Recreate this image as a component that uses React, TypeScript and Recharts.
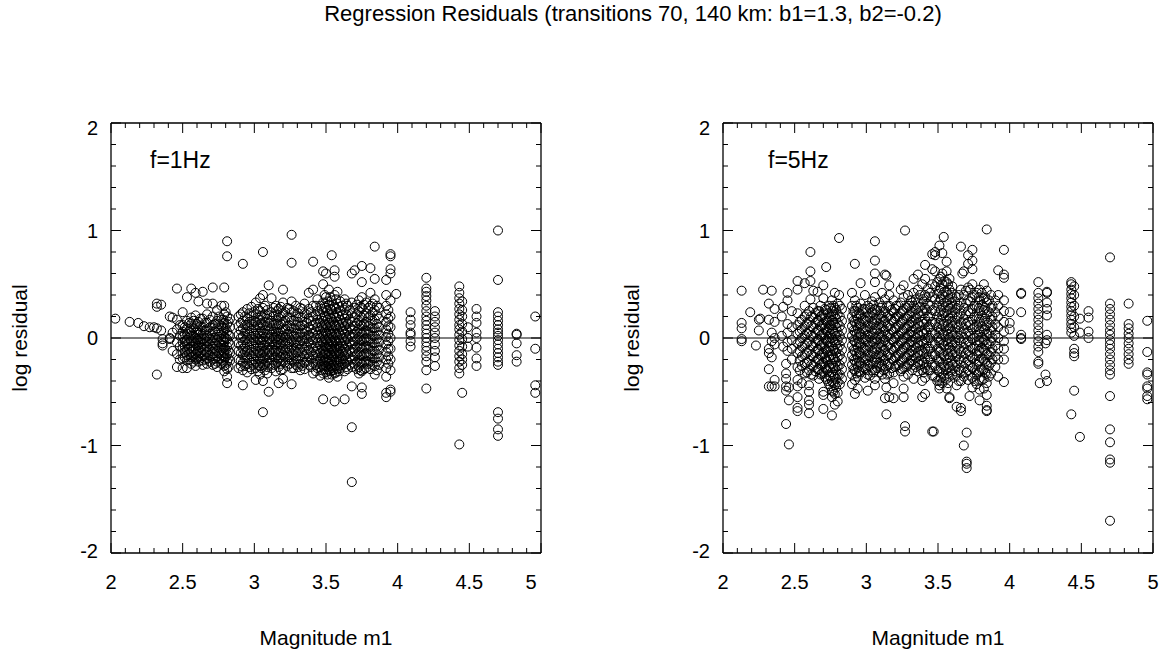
import React from 'react';
import { ScatterChart, Scatter, XAxis, YAxis, ReferenceLine } from 'recharts';

const TITLE = 'Regression Residuals (transitions 70, 140 km: b1=1.3, b2=-0.2)';
const X_NAME = 'Magnitude m1';
const Y_NAME = 'log residual';
const PANEL_NAMES = ['f=1Hz', 'f=5Hz'];

const X_TICKS = [2, 2.1, 2.2, 2.3, 2.4, 2.5, 2.6, 2.7, 2.8, 2.9, 3, 3.1, 3.2, 3.3, 3.4, 3.5, 3.6, 3.7, 3.8, 3.9, 4, 4.1, 4.2, 4.3, 4.4, 4.5, 4.6, 4.7, 4.8, 4.9, 5];
const X_LABELS = [2, 2.5, 3, 3.5, 4, 4.5, 5];
const Y_TICKS = [-2, -1.8, -1.6, -1.4, -1.2, -1, -0.8, -0.6, -0.4, -0.2, 0, 0.2, 0.4, 0.6, 0.8, 1, 1.2, 1.4, 1.6, 1.8, 2];
const Y_LABELS = [-2, -1, 0, 1, 2];

type Col = [number, number[]];

// ---- f = 1 Hz : [magnitude, residuals at that magnitude]
const L1_LOW: Col[] = [
  [2.03, [0.18]], [2.13, [0.15]], [2.19, [0.14]], [2.23, [0.11]], [2.27, [0.1]], [2.3, [0.1]],
  [2.32, [0.32, 0.29, 0.09, -0.34]], [2.35, [0.07, 0.31]], [2.36, [-0.01, -0.05, -0.07]],
  [2.41, [0.2, -0.01, 0.0]], [2.43, [0.19, 0.05, -0.12]], [2.46, [0.46, 0.17, 0.08, -0.04, -0.15, -0.27]],
  [2.48, [0.12, 0.02, -0.08, -0.2]],
];
const L1_MID1: Col[] = [
  [2.5, [0.24, 0.12, 0.06, 0.01, -0.04, -0.09, -0.14, -0.19, -0.28]],
  [2.515, [0.1, 0.03, -0.03, -0.08, -0.13, -0.18]],
  [2.53, [0.38, 0.16, 0.09, 0.04, -0.02, -0.06, -0.11, -0.16, -0.21, -0.28]],
  [2.545, [0.14, 0.06, 0.0, -0.05, -0.1, -0.15, -0.2]],
  [2.56, [0.46, 0.19, 0.13, 0.07, 0.02, -0.03, -0.08, -0.13, -0.18, -0.24]],
  [2.575, [0.16, 0.09, 0.02, -0.03, -0.08, -0.12, -0.17, -0.22]],
  [2.59, [0.42, 0.21, 0.11, 0.05, 0.0, -0.05, -0.1, -0.15, -0.2, -0.26]],
  [2.6, [0.13, 0.06, -0.01, -0.07, -0.13, -0.19]],
  [2.61, [0.34, 0.15, 0.08, 0.03, -0.02, -0.07, -0.12, -0.17, -0.22]],
  [2.625, [0.18, 0.11, 0.05, -0.01, -0.04, -0.09, -0.14, -0.19]],
  [2.64, [0.43, 0.18, 0.1, 0.04, -0.01, -0.06, -0.11, -0.16, -0.21, -0.25]],
  [2.655, [0.14, 0.07, 0.0, -0.05, -0.1, -0.15, -0.2]],
  [2.67, [0.32, 0.22, 0.14, 0.08, 0.02, -0.03, -0.08, -0.13, -0.19, -0.24]],
  [2.69, [0.17, 0.1, 0.04, -0.01, -0.06, -0.11, -0.16, -0.22]],
  [2.71, [0.47, 0.32, 0.2, 0.12, 0.06, 0.0, -0.05, -0.1, -0.15, -0.2, -0.25]],
  [2.725, [0.13, 0.06, 0.0, -0.05, -0.1, -0.14, -0.19, -0.24]],
  [2.74, [0.26, 0.16, 0.09, 0.03, -0.02, -0.07, -0.12, -0.17, -0.22, -0.27]],
  [2.755, [0.2, 0.13, 0.07, 0.01, -0.04, -0.09, -0.14, -0.19]],
  [2.77, [0.3, 0.17, 0.11, 0.05, -0.01, -0.06, -0.11, -0.16, -0.21, -0.24]],
  [2.785, [0.17, 0.1, 0.04, -0.02, -0.07, -0.12, -0.17, -0.22]],
  [2.79, [0.47, 0.3, 0.22, 0.14, 0.07, 0.01, -0.04, -0.09, -0.14, -0.19, -0.26, -0.31]],
  [2.8, [0.24, 0.09, 0.0, -0.11, -0.18, -0.25]],
  [2.81, [0.9, 0.76, 0.2, 0.13, 0.06, -0.01, -0.08, -0.15, -0.22, -0.29, -0.36, -0.42]],
  [2.82, [0.15, 0.03, -0.04, -0.12, -0.19, -0.27]],
  [2.83, [0.18, 0.1, 0.02, -0.06, -0.14, -0.21]],
];
const L1_MID2: Col[] = [
  [2.89, [0.2, 0.11, 0.03, -0.05, -0.12, -0.2, -0.28]],
  [2.905, [0.22, 0.14, 0.07, 0.0, -0.07, -0.14, -0.21, -0.26]],
  [2.92, [0.69, 0.24, 0.16, 0.09, 0.02, -0.04, -0.1, -0.16, -0.23, -0.3, -0.44]],
  [2.935, [0.2, 0.12, 0.05, -0.02, -0.08, -0.13, -0.19, -0.26]],
  [2.95, [0.27, 0.18, 0.12, 0.06, 0.0, -0.06, -0.12, -0.18, -0.24, -0.32]],
  [2.965, [0.23, 0.15, 0.09, 0.03, -0.03, -0.09, -0.15, -0.21, -0.27]],
  [2.98, [0.29, 0.2, 0.13, 0.07, 0.01, -0.05, -0.11, -0.17, -0.23, -0.29]],
  [2.995, [0.24, 0.16, 0.1, 0.04, -0.02, -0.08, -0.14, -0.2, -0.25]],
  [3.01, [0.33, 0.22, 0.15, 0.08, 0.02, -0.04, -0.1, -0.16, -0.22, -0.28, -0.39]],
  [3.025, [0.27, 0.19, 0.12, 0.05, -0.01, -0.07, -0.13, -0.19, -0.25, -0.31]],
  [3.04, [0.37, 0.25, 0.17, 0.1, 0.04, -0.02, -0.08, -0.14, -0.2, -0.26, -0.34]],
  [3.05, [0.21, 0.14, 0.07, 0.01, -0.04, -0.1, -0.16, -0.22, -0.28]],
  [3.06, [0.8, 0.4, 0.28, 0.19, 0.12, 0.05, -0.01, -0.07, -0.13, -0.19, -0.25, -0.4, -0.69]],
  [3.075, [0.3, 0.22, 0.15, 0.08, 0.01, -0.06, -0.12, -0.18, -0.24, -0.3]],
  [3.09, [0.26, 0.18, 0.11, 0.04, -0.03, -0.09, -0.15, -0.21, -0.27, -0.33]],
  [3.1, [0.49, -0.5]],
  [3.105, [0.21, 0.14, 0.07, 0.0, -0.06, -0.12, -0.18, -0.24]],
  [3.12, [0.37, 0.24, 0.16, 0.09, 0.03, -0.03, -0.09, -0.15, -0.21, -0.28]],
  [3.135, [0.28, 0.2, 0.12, 0.06, 0.0, -0.06, -0.12, -0.18, -0.25]],
  [3.15, [0.3, 0.21, 0.13, 0.06, 0.0, -0.06, -0.12, -0.18, -0.24, -0.31]],
  [3.16, [0.25, 0.16, 0.09, 0.02, -0.04, -0.1, -0.16, -0.22]],
  [3.17, [0.27, 0.19, 0.12, 0.05, -0.01, -0.07, -0.13, -0.2, -0.27, -0.42]],
  [3.185, [0.29, 0.2, 0.13, 0.06, 0.0, -0.06, -0.12, -0.18, -0.24, -0.3]],
  [3.2, [0.45, 0.33, 0.23, 0.15, 0.08, 0.02, -0.04, -0.1, -0.16, -0.22, -0.29, -0.38]],
  [3.215, [0.24, 0.16, 0.08, 0.01, -0.05, -0.11, -0.17, -0.23]],
  [3.23, [0.28, 0.19, 0.11, 0.04, -0.02, -0.08, -0.14, -0.2, -0.26]],
  [3.245, [0.27, 0.19, 0.12, 0.06, 0.0, -0.06, -0.12, -0.18, -0.24]],
  [3.26, [0.96, 0.7, 0.34, 0.24, 0.16, 0.09, 0.03, -0.03, -0.09, -0.15, -0.21, -0.28, -0.43]],
  [3.275, [0.25, 0.16, 0.09, 0.02, -0.04, -0.1, -0.16, -0.22, -0.28]],
  [3.29, [0.3, 0.2, 0.12, 0.05, -0.01, -0.07, -0.13, -0.19, -0.25]],
  [3.305, [0.23, 0.15, 0.08, 0.01, -0.06, -0.13, -0.2, -0.27]],
  [3.32, [0.28, 0.19, 0.11, 0.04, -0.03, -0.1, -0.17, -0.24, -0.3]],
  [3.335, [0.27, 0.19, 0.12, 0.05, -0.02, -0.08, -0.14, -0.2, -0.26]],
  [3.35, [0.32, 0.23, 0.15, 0.08, 0.01, -0.05, -0.11, -0.17, -0.23, -0.29]],
  [3.365, [0.22, 0.14, 0.06, -0.01, -0.08, -0.15, -0.22]],
  [3.38, [0.42, 0.27, 0.18, 0.1, 0.03, -0.04, -0.11, -0.18, -0.25]],
  [3.395, [0.24, 0.16, 0.08, 0.01, -0.06, -0.13, -0.2, -0.27]],
  [3.41, [0.71, 0.45, 0.3, 0.2, 0.12, 0.05, -0.02, -0.09, -0.16, -0.23, -0.33]],
];
const L1_MID3: Col[] = [
  [3.43, [0.3, 0.21, 0.14, 0.07, 0.0, -0.07, -0.13, -0.19, -0.25, -0.31]],
  [3.44, [0.36, 0.25, 0.17, 0.1, 0.03, -0.04, -0.1, -0.16, -0.22, -0.28]],
  [3.46, [0.3, 0.21, 0.14, 0.07, 0.0, -0.07, -0.14, -0.21, -0.27, -0.35]],
  [3.47, [0.27, 0.18, 0.11, 0.04, -0.03, -0.1, -0.17, -0.24, -0.3]],
  [3.48, [0.62, 0.5, 0.33, 0.24, 0.16, 0.09, 0.02, -0.05, -0.12, -0.19, -0.26, -0.33, -0.57]],
  [3.49, [0.4, 0.29, 0.2, 0.13, 0.06, -0.01, -0.08, -0.15, -0.22, -0.29]],
  [3.5, [0.6, 0.38, 0.28, 0.19, 0.12, 0.05, -0.02, -0.08, -0.14, -0.2, -0.26, -0.32]],
  [3.51, [0.34, 0.25, 0.17, 0.1, 0.03, -0.03, -0.09, -0.15, -0.21, -0.27, -0.34]],
  [3.52, [0.45, 0.31, 0.22, 0.14, 0.07, 0.0, -0.06, -0.12, -0.18, -0.24, -0.3, -0.37]],
  [3.53, [0.38, 0.27, 0.19, 0.12, 0.05, -0.02, -0.08, -0.14, -0.2, -0.26, -0.31]],
  [3.54, [0.77, 0.35, 0.26, 0.18, 0.11, 0.04, -0.03, -0.1, -0.16, -0.22, -0.28, -0.34]],
  [3.55, [0.31, 0.22, 0.15, 0.08, 0.01, -0.05, -0.12, -0.18, -0.25, -0.3]],
  [3.56, [0.63, 0.57, 0.4, 0.29, 0.2, 0.12, 0.05, -0.02, -0.09, -0.15, -0.21, -0.27, -0.33, -0.59]],
  [3.57, [0.36, 0.27, 0.19, 0.11, 0.04, -0.03, -0.08, -0.14, -0.2, -0.26, -0.32]],
  [3.58, [0.43, 0.32, 0.23, 0.15, 0.08, 0.01, -0.05, -0.11, -0.17, -0.23, -0.29, -0.36]],
  [3.59, [0.29, 0.2, 0.12, 0.05, -0.02, -0.08, -0.14, -0.2, -0.26, -0.31]],
  [3.6, [0.34, 0.25, 0.17, 0.1, 0.03, -0.04, -0.1, -0.16, -0.22, -0.28]],
  [3.615, [0.3, 0.21, 0.14, 0.07, 0.0, -0.07, -0.13, -0.19, -0.25]],
  [3.63, [0.36, 0.26, 0.18, 0.11, 0.04, -0.03, -0.1, -0.17, -0.24, -0.31, -0.57]],
  [3.64, [0.32, 0.22, 0.15, 0.08, 0.01, -0.06, -0.13, -0.2, -0.27]],
  [3.65, [0.3, 0.21, 0.13, 0.06, -0.01, -0.08, -0.15, -0.22, -0.29]],
  [3.665, [0.26, 0.17, 0.1, 0.03, -0.04, -0.11, -0.18, -0.25]],
  [3.68, [0.6, 0.33, 0.23, 0.15, 0.08, 0.01, -0.06, -0.13, -0.2, -0.27, -0.45, -0.83, -1.34]],
  [3.7, [0.63, 0.28, 0.19, 0.11, 0.04, -0.03, -0.1, -0.17, -0.24]],
  [3.715, [0.31, 0.22, 0.14, 0.06, -0.01, -0.08, -0.15, -0.22, -0.29]],
  [3.73, [0.35, 0.25, 0.16, 0.08, 0.01, -0.06, -0.13, -0.2, -0.27, -0.33]],
  [3.74, [0.29, 0.2, 0.12, 0.05, -0.02, -0.09, -0.16, -0.23, -0.3]],
  [3.75, [0.67, 0.52, 0.38, 0.28, 0.19, 0.11, 0.04, -0.03, -0.1, -0.17, -0.24, -0.31, -0.46, -0.52]],
  [3.765, [0.31, 0.21, 0.13, 0.06, -0.01, -0.08, -0.15, -0.22, -0.29]],
  [3.78, [0.33, 0.23, 0.15, 0.07, 0.0, -0.07, -0.14, -0.21, -0.28]],
  [3.795, [0.28, 0.19, 0.11, 0.04, -0.03, -0.1, -0.17, -0.24]],
  [3.81, [0.65, 0.42, 0.3, 0.21, 0.13, 0.06, -0.01, -0.08, -0.15, -0.22, -0.29]],
  [3.825, [0.32, 0.24, 0.16, 0.09, 0.02, -0.05, -0.12, -0.19, -0.25]],
  [3.84, [0.85, 0.55, 0.36, 0.26, 0.17, 0.09, 0.02, -0.05, -0.12, -0.19, -0.26, -0.34]],
  [3.855, [0.3, 0.21, 0.13, 0.06, -0.01, -0.08, -0.15, -0.22, -0.3]],
  [3.87, [0.28, 0.18, 0.1, 0.03, -0.04, -0.11, -0.18, -0.25]],
  [3.92, [0.54, 0.4, 0.3, 0.22, 0.15, 0.08, 0.01, -0.06, -0.13, -0.2, -0.28, -0.36, -0.51, -0.55]],
  [3.935, [0.26, 0.18, 0.11, 0.04, -0.03, -0.1, -0.17, -0.24]],
  [3.95, [0.78, 0.76, 0.64, 0.6, 0.35, 0.2, 0.1, 0.0, -0.1, -0.2, -0.3, -0.48, -0.5]],
  [3.99, [0.41]],
];
const L1_HIGH: Col[] = [
  [4.09, [0.24, 0.17, 0.12, 0.05, 0.03, -0.03, -0.08]],
  [4.2, [0.56, 0.46, 0.43, 0.39, 0.35, 0.3, 0.25, 0.2, 0.16, 0.12, 0.08, 0.04, 0.0, -0.04, -0.08, -0.12, -0.17, -0.22, -0.3, -0.47]],
  [4.26, [0.25, 0.2, 0.15, 0.1, 0.05, 0.0, -0.06, -0.12, -0.18, -0.26]],
  [4.43, [0.48, 0.42, 0.37, 0.32, 0.27, 0.22, 0.17, 0.12, 0.08, 0.03, -0.02, -0.07, -0.12, -0.17, -0.22, -0.28, -0.33, -0.99]],
  [4.45, [0.34, 0.26, 0.2, 0.13, 0.06, -0.01, -0.08, -0.15, -0.2, -0.25, -0.51]],
  [4.49, [0.1, 0.0, -0.08]],
  [4.55, [0.27, 0.2, 0.14, 0.05, 0.0, -0.09, -0.19, -0.26]],
  [4.7, [1.0, 0.54, 0.24, 0.2, 0.16, 0.12, 0.08, 0.05, 0.02, -0.02, -0.06, -0.1, -0.14, -0.18, -0.22, -0.25, -0.69, -0.75, -0.85, -0.91]],
  [4.83, [0.04, 0.03, -0.05, -0.16, -0.22]],
  [4.96, [0.2, -0.1, -0.44, -0.51]],
];

// ---- f = 5 Hz
const R5_LOW: Col[] = [
  [2.13, [0.44, 0.14, 0.09, -0.01, -0.03]], [2.19, [0.24]], [2.23, [-0.07]], [2.25, [0.17, 0.07]],
  [2.26, [0.18]], [2.28, [0.45]], [2.32, [0.32, 0.17, -0.1, -0.14, -0.29, -0.45]],
  [2.34, [0.44, 0.05, -0.03, -0.18, -0.45]], [2.36, [0.27, 0.15, 0.0, -0.06, -0.39, -0.45]],
  [2.41, [0.2, 0.02]], [2.42, [0.29, -0.08]], [2.44, [-0.24, -0.33, -0.38, -0.45, -0.49, -0.8]],
  [2.45, [0.42, 0.35, 0.13, 0.05, -0.04, -0.12]], [2.46, [-0.46, -0.58, -0.99]],
  [2.48, [0.25, 0.1, -0.02, -0.1, -0.2]],
];
const R5_MID1: Col[] = [
  [2.52, [0.53, 0.45, 0.23, 0.12, 0.04, -0.05, -0.14, -0.27, -0.39, -0.45, -0.55, -0.65, -0.68]],
  [2.535, [0.15, 0.06, -0.03, -0.12, -0.21, -0.3]],
  [2.55, [0.17, 0.08, 0.0, -0.08, -0.17, -0.26, -0.42]],
  [2.57, [0.51, 0.3, 0.2, 0.11, 0.02, -0.07, -0.16, -0.24, -0.33]],
  [2.585, [0.22, 0.13, 0.04, -0.05, -0.14, -0.23, -0.32]],
  [2.6, [0.25, 0.15, 0.06, -0.03, -0.12, -0.21, -0.3, -0.44, -0.5, -0.58, -0.62, -0.7]],
  [2.61, [0.8, 0.62, 0.53, 0.36]],
  [2.615, [0.2, 0.11, 0.02, -0.07, -0.16, -0.25, -0.34]],
  [2.63, [0.44, 0.28, 0.19, 0.1, 0.01, -0.08, -0.17, -0.26, -0.35]],
  [2.645, [0.23, 0.14, 0.05, -0.04, -0.13, -0.22, -0.31]],
  [2.66, [0.43, 0.25, 0.16, 0.07, -0.02, -0.11, -0.2, -0.29]],
  [2.67, [0.25, 0.16, 0.07, -0.02, -0.11, -0.2, -0.29, -0.38]],
  [2.68, [0.3, 0.2, 0.11, 0.02, -0.07, -0.16, -0.25, -0.34]],
  [2.69, [0.21, 0.12, 0.03, -0.06, -0.15, -0.24, -0.33]],
  [2.7, [0.49, 0.37, 0.22, 0.13, 0.04, -0.05, -0.14, -0.23, -0.32, -0.5, -0.53, -0.66]],
  [2.71, [0.27, 0.18, 0.09, 0.0, -0.09, -0.18, -0.27, -0.36]],
  [2.72, [0.66, 0.26, 0.16, 0.07, -0.02, -0.11, -0.2, -0.29, -0.38]],
  [2.73, [0.23, 0.14, 0.05, -0.04, -0.13, -0.22, -0.31, -0.4]],
  [2.74, [0.3, 0.19, 0.1, 0.01, -0.08, -0.17, -0.26, -0.35, -0.43]],
  [2.75, [0.28, 0.2, 0.12, 0.04, -0.04, -0.12, -0.2, -0.28, -0.36, -0.45]],
  [2.76, [0.35, 0.25, 0.16, 0.08, 0.0, -0.08, -0.16, -0.24, -0.32, -0.4, -0.49, -0.55, -0.72]],
  [2.77, [0.3, 0.22, 0.14, 0.06, -0.02, -0.1, -0.18, -0.26, -0.34, -0.42, -0.5]],
  [2.78, [0.42, 0.28, 0.2, 0.12, 0.04, -0.04, -0.12, -0.2, -0.28, -0.36, -0.44, -0.52, -0.62]],
  [2.79, [0.26, 0.18, 0.1, 0.02, -0.06, -0.14, -0.22, -0.3, -0.38, -0.46]],
  [2.8, [0.32, 0.22, 0.14, 0.06, -0.02, -0.1, -0.18, -0.26, -0.34, -0.41, -0.51, -0.59]],
  [2.81, [0.93, 0.4]],
  [2.815, [0.3, 0.2, 0.11, 0.02, -0.07, -0.16, -0.25, -0.34, -0.43]],
  [2.83, [0.27, 0.16, 0.07, -0.02, -0.11, -0.2, -0.29, -0.38]],
];
const R5_MID2: Col[] = [
  [2.9, [0.42, 0.3, 0.2, 0.11, 0.02, -0.07, -0.16, -0.25, -0.34, -0.43]],
  [2.91, [0.25, 0.16, 0.07, -0.02, -0.11, -0.2, -0.29]],
  [2.92, [0.69, 0.35, 0.25, 0.15, 0.06, -0.03, -0.12, -0.21, -0.3, -0.39, -0.52]],
  [2.93, [0.3, 0.21, 0.12, 0.03, -0.06, -0.15, -0.24, -0.33]],
  [2.94, [0.28, 0.18, 0.09, 0.0, -0.09, -0.18, -0.27, -0.36, -0.47]],
  [2.95, [0.23, 0.14, 0.05, -0.04, -0.13, -0.22, -0.31]],
  [2.96, [0.51, 0.32, 0.22, 0.13, 0.04, -0.05, -0.14, -0.23, -0.32]],
  [2.975, [0.27, 0.18, 0.09, 0.0, -0.09, -0.18, -0.27]],
  [2.99, [0.4, 0.27, 0.17, 0.08, -0.01, -0.1, -0.19, -0.28, -0.37]],
  [3.0, [0.24, 0.15, 0.06, -0.03, -0.12, -0.21, -0.3]],
  [3.01, [0.3, 0.2, 0.11, 0.02, -0.07, -0.16, -0.25, -0.34, -0.49]],
  [3.025, [0.28, 0.19, 0.1, 0.01, -0.08, -0.17, -0.26, -0.35]],
  [3.04, [0.34, 0.24, 0.15, 0.06, -0.03, -0.12, -0.21, -0.3]],
  [3.05, [0.31, 0.22, 0.13, 0.04, -0.05, -0.14, -0.23, -0.32]],
  [3.06, [0.9, 0.72, 0.6, 0.52, 0.38, 0.27, 0.18, 0.09, 0.0, -0.09, -0.18, -0.3, -0.38, -0.44]],
  [3.07, [-0.23]],
  [3.075, [0.26, 0.17, 0.08, -0.01, -0.1, -0.19, -0.28]],
  [3.09, [0.33, 0.22, 0.13, 0.04, -0.05, -0.14, -0.23, -0.32]],
  [3.1, [0.28, 0.18, 0.09, 0.0, -0.09, -0.18, -0.27]],
  [3.11, [0.42, 0.3, 0.2, 0.11, 0.02, -0.07, -0.16, -0.25, -0.34]],
  [3.12, [0.24, 0.15, 0.06, -0.03, -0.12, -0.21, -0.3]],
  [3.13, [0.59, 0.36, 0.25, 0.16, 0.07, -0.02, -0.11, -0.2, -0.29, -0.38, -0.56]],
  [3.14, [0.58, -0.46, -0.71]],
  [3.145, [0.3, 0.2, 0.11, 0.02, -0.07, -0.16, -0.25, -0.34]],
  [3.16, [0.49, 0.4, 0.3, 0.21, 0.12, 0.03, -0.06, -0.15, -0.24, -0.33, -0.55]],
  [3.175, [0.26, 0.17, 0.08, -0.01, -0.1, -0.19, -0.28]],
  [3.19, [0.35, 0.24, 0.15, 0.06, -0.03, -0.12, -0.21, -0.32, -0.42, -0.56]],
  [3.2, [0.27, 0.18, 0.09, 0.0, -0.09, -0.18, -0.27]],
  [3.21, [0.3, 0.2, 0.1, 0.01, -0.08, -0.17, -0.26]],
  [3.225, [0.3, 0.2, 0.11, 0.02, -0.07, -0.16, -0.25]],
  [3.24, [0.45, 0.33, 0.23, 0.14, 0.05, -0.04, -0.13, -0.22, -0.31]],
  [3.25, [0.25, 0.16, 0.07, -0.02, -0.11, -0.2, -0.29]],
  [3.26, [0.49, 0.38, 0.27, 0.18, 0.09, 0.0, -0.09, -0.18, -0.27, -0.36, -0.47, -0.55]],
  [3.27, [1.0, -0.82, -0.87]],
  [3.28, [0.28, 0.18, 0.09, 0.0, -0.09, -0.18, -0.27]],
  [3.29, [0.4, 0.3, 0.2, 0.11, 0.02, -0.07, -0.16, -0.25, -0.34]],
  [3.3, [0.3, 0.21, 0.12, 0.03, -0.06, -0.15, -0.24]],
  [3.31, [0.35, 0.25, 0.15, 0.06, -0.03, -0.12, -0.21]],
  [3.32, [0.33, 0.24, 0.15, 0.06, -0.03, -0.12, -0.21, -0.3]],
  [3.33, [0.55, 0.42, 0.3, 0.2, 0.11, 0.02, -0.07, -0.16, -0.25, -0.38]],
  [3.345, [0.36, 0.27, 0.18, 0.09, 0.0, -0.09, -0.18, -0.27]],
  [3.36, [0.59, 0.45, 0.33, 0.23, 0.14, 0.05, -0.04, -0.13, -0.22, -0.31]],
  [3.375, [0.4, 0.29, 0.2, 0.11, 0.02, -0.07, -0.16, -0.25]],
  [3.39, [0.5, 0.36, 0.25, 0.15, 0.06, -0.03, -0.12, -0.21, -0.3, -0.4, -0.55]],
  [3.4, [0.34, 0.23, 0.13, 0.04, -0.05, -0.14, -0.23, -0.32]],
  [3.41, [0.68, 0.55, 0.4, 0.28, 0.18, 0.08, -0.01, -0.1, -0.19, -0.28, -0.37, -0.52]],
  [3.42, [0.38, 0.26, 0.15, 0.05, -0.05, -0.15, -0.25]],
  [3.43, [0.46, 0.32, 0.2, 0.1, 0.0, -0.1, -0.2, -0.3]],
  [3.445, [0.42, 0.3, 0.2, 0.1, 0.0, -0.1, -0.2, -0.3]],
  [3.46, [0.78, 0.64, 0.5, 0.38, 0.26, 0.15, 0.05, -0.05, -0.15, -0.25, -0.35, -0.87]],
  [3.47, [-0.87]],
];
const R5_MID3: Col[] = [
  [3.48, [0.8, 0.77, 0.62, 0.48, 0.36, 0.25, 0.14, 0.04, -0.06, -0.16, -0.26, -0.36]],
  [3.495, [0.52, 0.41, 0.3, 0.2, 0.1, 0.0, -0.1, -0.2, -0.3, -0.4]],
  [3.51, [0.86, 0.55, 0.44, 0.34, 0.24, 0.14, 0.05, -0.04, -0.13, -0.22, -0.31, -0.4, -0.44, -0.47]],
  [3.52, [0.57, 0.46, 0.36, 0.26, 0.17, 0.08, -0.01, -0.1, -0.19, -0.28, -0.37]],
  [3.53, [0.79, 0.6, 0.5, 0.4, 0.3, 0.21, 0.12, 0.03, -0.06, -0.15, -0.24, -0.33, -0.42]],
  [3.54, [0.94]],
  [3.545, [0.53, 0.43, 0.33, 0.23, 0.13, 0.03, -0.07, -0.17, -0.27, -0.37]],
  [3.56, [0.71, 0.62, 0.52, 0.43, 0.34, 0.25, 0.16, 0.07, -0.02, -0.11, -0.2, -0.29, -0.38, -0.47]],
  [3.57, [0.5, 0.4, 0.3, 0.21, 0.12, 0.03, -0.06, -0.15, -0.24, -0.33, -0.42]],
  [3.58, [0.55, 0.45, 0.36, 0.27, 0.18, 0.09, 0.0, -0.09, -0.18, -0.27, -0.36, -0.55, -0.56]],
  [3.595, [0.42, 0.33, 0.24, 0.15, 0.06, -0.03, -0.12, -0.21, -0.3]],
  [3.6, [0.48, 0.38, 0.29, 0.2, 0.11, 0.02, -0.07, -0.16, -0.25, -0.34]],
  [3.62, [0.34, 0.24, 0.14, 0.05, -0.04, -0.13, -0.22, -0.31]],
  [3.63, [0.38, 0.28, 0.19, 0.1, 0.01, -0.08, -0.17, -0.26, -0.35, -0.44, -0.64]],
  [3.645, [0.4, 0.3, 0.2, 0.1, 0.0, -0.1, -0.2, -0.3, -0.4]],
  [3.66, [0.85, 0.45, 0.33, 0.23, 0.14, 0.05, -0.04, -0.13, -0.22, -0.31, -0.4, -0.65, -0.68]],
  [3.67, [0.6]],
  [3.68, [0.62, 0.4, 0.28, 0.18, 0.09, 0.0, -0.09, -0.18, -0.27, -0.36, -1.0]],
  [3.695, [0.44, 0.32, 0.22, 0.13, 0.04, -0.05, -0.14, -0.23, -0.32]],
  [3.7, [-0.88, -1.15, -1.17, -1.21]],
  [3.71, [0.77, 0.69, 0.47, 0.35, 0.25, 0.15, 0.06, -0.03, -0.12, -0.21, -0.3, -0.39]],
  [3.72, [-0.54]],
  [3.725, [0.45, 0.34, 0.23, 0.12, 0.02, -0.08, -0.17, -0.26, -0.35]],
  [3.74, [0.82, 0.72, 0.64, 0.5, 0.38, 0.27, 0.17, 0.08, -0.01, -0.1, -0.19, -0.28, -0.37, -0.46]],
  [3.755, [0.4, 0.3, 0.2, 0.1, 0.0, -0.1, -0.2, -0.3, -0.4]],
  [3.77, [0.42, 0.3, 0.2, 0.11, 0.02, -0.07, -0.16, -0.25, -0.34, -0.43]],
  [3.785, [0.38, 0.28, 0.18, 0.08, -0.02, -0.12, -0.22, -0.32]],
  [3.79, [0.45, 0.35, 0.25, 0.15, 0.06, -0.03, -0.12, -0.21, -0.3, -0.39, -0.48, -0.58]],
  [3.805, [0.42, 0.31, 0.21, 0.11, 0.01, -0.09, -0.19, -0.29, -0.39]],
  [3.82, [0.5, 0.37, 0.26, 0.16, 0.07, -0.02, -0.11, -0.2, -0.29, -0.38, -0.47]],
  [3.83, [0.38, 0.28, 0.18, 0.08, -0.02, -0.12, -0.22, -0.32]],
  [3.84, [1.01, 0.44, 0.33, 0.22, 0.12, 0.03, -0.06, -0.15, -0.24, -0.33, -0.42, -0.53, -0.63, -0.67, -0.68]],
  [3.855, [0.35, 0.24, 0.14, 0.04, -0.06, -0.16, -0.26, -0.36]],
  [3.87, [0.4, 0.28, 0.17, 0.07, -0.03, -0.13, -0.23, -0.33]],
  [3.88, [0.3, 0.2, 0.1, 0.0, -0.1, -0.2]],
  [3.9, [0.35, 0.24, 0.13, 0.03, -0.07, -0.17, -0.27]],
  [3.92, [0.63, 0.4, 0.3, 0.2, 0.1, 0.0, -0.1, -0.2, -0.36]],
  [3.96, [0.82, 0.59, 0.56, 0.35, 0.25, 0.15, 0.06, -0.03, -0.1, -0.2, -0.41]],
];
const R5_HIGH: Col[] = [
  [4.0, [0.24, 0.14, 0.08]],
  [4.08, [0.42, 0.41, 0.24, 0.03, -0.01, 0.0]],
  [4.2, [0.52, 0.42, 0.37, 0.32, 0.27, 0.22, 0.17, 0.12, 0.07, 0.02, -0.03, -0.08, -0.13, -0.22, -0.24]],
  [4.21, [-0.42]],
  [4.25, [-0.05, -0.34]],
  [4.26, [0.43, 0.42, 0.33, 0.27, 0.21, 0.03, -0.02, -0.4]],
  [4.43, [0.52, 0.5, 0.45, 0.41, 0.37, 0.33, 0.29, 0.25, 0.21, 0.17, 0.13, 0.09, 0.05, -0.71]],
  [4.45, [0.48, 0.4, 0.3, 0.2, 0.1, 0.02, -0.1, -0.14, -0.17, -0.49]],
  [4.49, [0.18, 0.05, -0.92]],
  [4.55, [0.25, 0.19, 0.06, 0.0]],
  [4.7, [0.75, 0.32, 0.27, 0.22, 0.17, 0.12, 0.07, 0.03, -0.02, -0.06, -0.1, -0.15, -0.2, -0.25, -0.3, -0.34, -0.54, -0.85, -0.97, -1.13, -1.16, -1.7]],
  [4.83, [0.32, 0.13, 0.09, 0.04, 0.0, -0.05, -0.1, -0.15, -0.2, -0.24]],
  [4.96, [0.16, -0.13, -0.32, -0.34, -0.45, -0.47, -0.54, -0.57]],
];

const flatten = (groups: Col[][]) =>
  groups.flat().flatMap(([m, rs]) => rs.map((r) => ({ x: m, y: r })));

const DATA_1HZ = flatten([L1_LOW, L1_MID1, L1_MID2, L1_MID3, L1_HIGH]);
const DATA_5HZ = flatten([R5_LOW, R5_MID1, R5_MID2, R5_MID3, R5_HIGH]);

const FONT = '"Liberation Sans", Arial, Helvetica, sans-serif';
const near = (a: number, b: number) => Math.abs(a - b) < 1e-6;

const Ring = (p: any) => (
  <circle cx={p.cx} cy={p.cy} r={4.5} fill="none" stroke="#000" strokeWidth={1} />
);

const makeBottomTick = (lastShift: number) => (p: any) => {
  const v = p.payload.value;
  const major = X_LABELS.some((l) => near(l, v));
  const dx = near(v, 5) ? lastShift : 0;
  return (
    <g>
      <line x1={p.x} x2={p.x} y1={p.y} y2={p.y - (major ? 10 : 5)} stroke="#000" strokeWidth={1} />
      {major && (
        <text x={p.x + dx} y={p.y + 36} textAnchor="middle" fontSize={20} fontFamily={FONT} fill="#000">
          {String(v)}
        </text>
      )}
    </g>
  );
};
const TopTick = (p: any) => {
  const v = p.payload.value;
  const major = X_LABELS.some((l) => near(l, v));
  return <line x1={p.x} x2={p.x} y1={p.y} y2={p.y + (major ? 10 : 5)} stroke="#000" strokeWidth={1} />;
};
const LeftTick = (p: any) => {
  const v = p.payload.value;
  const major = Y_LABELS.some((l) => near(l, v));
  const dy = near(v, 2) ? 5 : near(v, -2) ? -2 : 0;
  return (
    <g>
      <line x1={p.x} x2={p.x + (major ? 10 : 5)} y1={p.y} y2={p.y} stroke="#000" strokeWidth={1} />
      {major && (
        <text x={p.x - 13} y={p.y + 7 + dy} textAnchor="end" fontSize={20} fontFamily={FONT} fill="#000">
          {String(v)}
        </text>
      )}
    </g>
  );
};
const RightTick = (p: any) => {
  const v = p.payload.value;
  const major = Y_LABELS.some((l) => near(l, v));
  return <line x1={p.x} x2={p.x - (major ? 10 : 5)} y1={p.y} y2={p.y} stroke="#000" strokeWidth={1} />;
};

const AXIS_LINE = { stroke: '#000', strokeWidth: 1.3 };

function Panel({ data, left, marginLeft, marginRight, lastShift }: any) {
  return (
    <div style={{ position: 'absolute', left, top: 0 }}>
      <ScatterChart
        width={583}
        height={661}
        margin={{ top: 122, left: marginLeft - 1, right: marginRight - 1, bottom: 107 }}
      >
        <XAxis xAxisId="b" dataKey="x" type="number" domain={[2, 5]} ticks={X_TICKS} interval={0}
          orientation="bottom" height={1} tickSize={0} tickMargin={0} tickLine={false}
          axisLine={AXIS_LINE} tick={makeBottomTick(lastShift)} allowDataOverflow />
        <XAxis xAxisId="t" dataKey="x" type="number" domain={[2, 5]} ticks={X_TICKS} interval={0}
          orientation="top" height={1} tickSize={0} tickMargin={0} tickLine={false}
          axisLine={AXIS_LINE} tick={TopTick} allowDataOverflow />
        <YAxis yAxisId="l" dataKey="y" type="number" domain={[-2, 2]} ticks={Y_TICKS} interval={0}
          orientation="left" width={1} tickSize={0} tickMargin={0} tickLine={false}
          axisLine={AXIS_LINE} tick={LeftTick} allowDataOverflow />
        <YAxis yAxisId="r" dataKey="y" type="number" domain={[-2, 2]} ticks={Y_TICKS} interval={0}
          orientation="right" width={1} tickSize={0} tickMargin={0} tickLine={false}
          axisLine={AXIS_LINE} tick={RightTick} allowDataOverflow />
        <ReferenceLine xAxisId="b" yAxisId="l" y={0} stroke="#000" strokeWidth={1} />
        <Scatter xAxisId="b" yAxisId="l" data={data} shape={Ring} isAnimationActive={false} />
      </ScatterChart>
    </div>
  );
}

export default function App() {
  return (
    <div style={{ position: 'absolute', left: 0, top: 0, width: 1166, height: 661, background: '#fff', overflow: 'hidden' }}>
      <svg width={1166} height={661} style={{ position: 'absolute', left: 0, top: 0 }}>
        <text x={633} y={21} textAnchor="middle" fontSize={22} fontFamily={FONT} fill="#000">{TITLE}</text>
        <text x={326} y={645} textAnchor="middle" fontSize={21} fontFamily={FONT} fill="#000">{X_NAME}</text>
        <text x={938} y={645} textAnchor="middle" fontSize={21} fontFamily={FONT} fill="#000">{X_NAME}</text>
        <text transform="translate(27,338) rotate(-90)" textAnchor="middle" fontSize={21} fontFamily={FONT} fill="#000">{Y_NAME}</text>
        <text transform="translate(639,338) rotate(-90)" textAnchor="middle" fontSize={21} fontFamily={FONT} fill="#000">{Y_NAME}</text>
      </svg>
      <Panel data={DATA_1HZ} left={0} marginLeft={111} marginRight={42} lastShift={-10} />
      <Panel data={DATA_5HZ} left={583} marginLeft={140} marginRight={13} lastShift={0} />
      <svg width={1166} height={661} style={{ position: 'absolute', left: 0, top: 0, pointerEvents: 'none' }}>
        <text x={150} y={168} fontSize={23} fontFamily={FONT} fill="#000">{PANEL_NAMES[0]}</text>
        <text x={768} y={168} fontSize={23} fontFamily={FONT} fill="#000">{PANEL_NAMES[1]}</text>
      </svg>
    </div>
  );
}
